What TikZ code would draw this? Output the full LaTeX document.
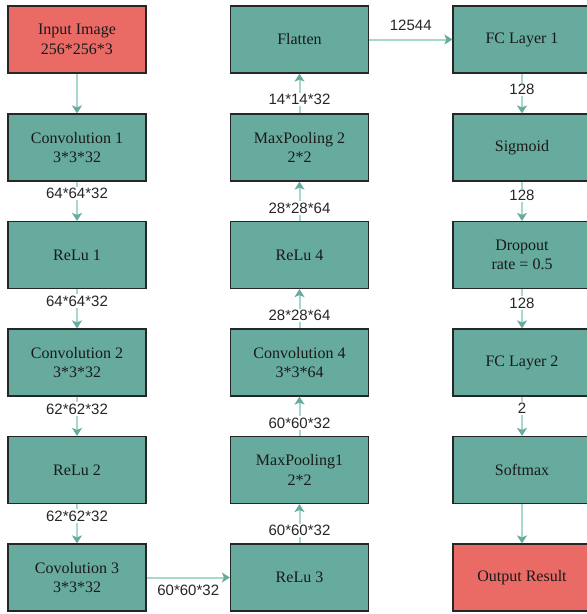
\documentclass[tikz,border=0pt]{standalone}
\usepackage{fontspec}
\setmainfont{Liberation Serif}
\newfontfamily\labelfont{Liberation Sans}
\usetikzlibrary{arrows.meta}
\definecolor{tealfill}{HTML}{67AB9F}
\definecolor{redfill}{HTML}{EA6B66}
\definecolor{flowline}{HTML}{A6D8CC}
\definecolor{flowtip}{HTML}{67AB9F}
\begin{document}
\begin{tikzpicture}[x=1pt,y=-1pt,
  layer/.style={draw=black!85, line width=1.2pt, fill=tealfill,
    minimum width=138pt, minimum height=67pt, inner sep=0pt,
    align=center, font=\fontsize{16}{19.5}\selectfont, text=black!90},
  io/.style={layer, fill=redfill},
  flow/.style={draw=flowline, line width=2pt,
    -{Stealth[color=flowtip,length=8pt,width=10pt,inset=2pt]}},
  dims/.style={fill=white, inner sep=1.5pt,
    font=\labelfont\fontsize{15}{17}\selectfont, text=black!85}]
\fill[white] (0,0) rectangle (587,614);
\useasboundingbox (0,0) rectangle (587,614);

% encoder column
\node[io]    (input) at (77,39.5)  {Input Image\\256*256*3};
\node[layer] (conv1) at (77,147.5) {Convolution 1\\3*3*32};
\node[layer] (relu1) at (77,255)   {ReLu 1};
\node[layer] (conv2) at (77,362.5) {Convolution 2\\3*3*32};
\node[layer] (relu2) at (77,470)   {ReLu 2};
\node[layer] (conv3) at (77,577.5) {Covolution 3\\3*3*32};

% middle column, read bottom-up
\node[layer] (relu3)    at (299.5,577.5) {ReLu 3};
\node[layer] (maxpool1) at (299.5,470)   {MaxPooling1\\2*2};
\node[layer] (conv4)    at (299.5,362.5) {Convolution 4\\3*3*64};
\node[layer] (relu4)    at (299.5,255)   {ReLu 4};
\node[layer] (maxpool2) at (299.5,147.5) {MaxPooling 2\\2*2};
\node[layer] (flatten)  at (299.5,39.5)  {Flatten};

% dense head
\node[layer] (fc1)     at (522,39.5)  {FC Layer 1};
\node[layer] (sigmoid) at (522,147.5) {Sigmoid};
\node[layer] (dropout) at (522,255)   {Dropout\\rate = 0.5};
\node[layer] (fc2)     at (522,362.5) {FC Layer 2};
\node[layer] (softmax) at (522,470)   {Softmax};
\node[io]    (output)  at (522,577.5) {Output Result};

% connectors
\draw[flow] (input) -- (conv1);
\draw[flow] (conv1) -- node[dims,pos=0.3] {64*64*32} (relu1);
\draw[flow] (relu1) -- node[dims,pos=0.3] {64*64*32} (conv2);
\draw[flow] (conv2) -- node[dims,pos=0.32] {62*62*32} (relu2);
\draw[flow] (relu2) -- node[dims,pos=0.3] {62*62*32} (conv3);
\draw[flow] (conv3) -- node[dims,fill=none,yshift=-13pt] {60*60*32} (relu3);

\draw[flow] (relu3)    -- node[dims,pos=0.33] {60*60*32} (maxpool1);
\draw[flow] (maxpool1) -- node[dims,pos=0.33] {60*60*32} (conv4);
\draw[flow] (conv4)    -- node[dims,pos=0.33] {28*28*64} (relu4);
\draw[flow] (relu4)    -- node[dims,pos=0.33] {28*28*64} (maxpool2);
\draw[flow] (maxpool2) -- node[dims,pos=0.35] {14*14*32} (flatten);
\draw[flow] (flatten)  -- node[dims,fill=none,yshift=14pt] {12544} (fc1);

\draw[flow] (fc1)     -- node[dims,pos=0.4]  {128} (sigmoid);
\draw[flow] (sigmoid) -- node[dims,pos=0.35] {128} (dropout);
\draw[flow] (dropout) -- node[dims,pos=0.35] {128} (fc2);
\draw[flow] (fc2)     -- node[dims,pos=0.3]  {2} (softmax);
\draw[flow] (softmax) -- (output);
\end{tikzpicture}
\end{document}
